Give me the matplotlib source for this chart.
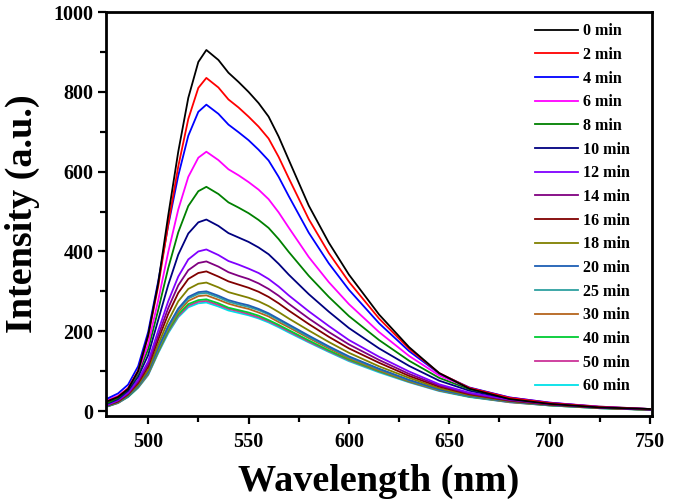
import matplotlib
matplotlib.use("Agg")
import matplotlib.pyplot as plt
from matplotlib.ticker import MultipleLocator

plt.rcParams['font.family'] = ['Liberation Serif', 'DejaVu Serif']
plt.rcParams['font.weight'] = 'bold'

# wavelength grid (nm)
wavelength = [480, 485, 490, 495, 500, 505, 510, 515, 520, 525, 529, 535, 540, 545, 550,
              555, 560, 565, 570, 580, 590, 600, 615, 630, 645, 660, 680, 700, 725, 750]

labels = ["0 min", "2 min", "4 min", "6 min", "8 min", "10 min", "12 min", "14 min",
          "16 min", "18 min", "20 min", "25 min", "30 min", "40 min", "50 min", "60 min"]

colors = ["#000000", "#FF0000", "#0000FF", "#FF00FF", "#008000", "#000080", "#8000FF",
          "#800080", "#800000", "#808000", "#1E5FB4", "#2EA0A0", "#B5651D", "#00CC33",
          "#CC3399", "#00E0E8"]

t0 = [25, 35, 55, 100, 190, 320, 490, 650, 785, 875, 905, 880, 848, 825, 800, 772, 738, 688, 630, 515, 422, 342, 242, 160, 95, 56, 30, 18, 9, 5]
t2 = [25, 36, 57, 101, 187, 312, 468, 613, 732, 810, 835, 811, 781, 761, 738, 713, 683, 637, 584, 481, 396, 324, 232, 156, 95, 58, 33, 20, 10, 5]
t4 = [32, 44, 66, 112, 198, 325, 465, 590, 690, 750, 768, 745, 718, 699, 679, 655, 628, 587, 539, 447, 370, 304, 220, 150, 94, 59, 34, 21, 10, 5]
t6 = [28, 38, 57, 98, 168, 277, 398, 505, 587, 635, 650, 629, 606, 591, 574, 555, 531, 498, 460, 386, 323, 268, 198, 138, 89, 58, 34, 21, 11, 5]
t8 = [21, 33, 55, 93, 155, 253, 358, 448, 514, 551, 562, 544, 523, 510, 496, 479, 459, 431, 399, 339, 286, 238, 178, 126, 83, 55, 33, 20, 11, 5]
t10 = [19, 30, 51, 86, 140, 228, 316, 392, 445, 473, 480, 464, 446, 435, 424, 410, 393, 369, 342, 293, 249, 208, 157, 113, 76, 51, 31, 19, 10, 4]
t12 = [16, 27, 46, 78, 124, 201, 275, 337, 380, 400, 405, 391, 376, 367, 357, 346, 331, 312, 290, 250, 213, 178, 136, 99, 67, 46, 29, 18, 9, 4]
t14 = [16, 26, 44, 74, 117, 189, 258, 315, 353, 371, 375, 362, 348, 339, 331, 320, 306, 289, 269, 232, 198, 167, 128, 93, 64, 44, 27, 17, 9, 4]
t16 = [15, 24, 42, 70, 111, 179, 243, 296, 331, 346, 350, 337, 325, 317, 309, 299, 286, 270, 252, 218, 186, 157, 121, 88, 61, 42, 26, 16, 8, 4]
t18 = [14, 23, 40, 66, 103, 167, 226, 275, 306, 319, 322, 310, 298, 291, 284, 275, 263, 248, 232, 202, 173, 146, 112, 83, 57, 40, 25, 16, 8, 3]
t20 = [13, 22, 38, 63, 98, 158, 213, 257, 286, 298, 300, 289, 278, 271, 265, 256, 245, 231, 217, 189, 162, 137, 106, 78, 54, 38, 24, 15, 8, 3]
t25 = [13, 22, 37, 62, 97, 156, 210, 254, 282, 294, 296, 285, 274, 267, 261, 253, 242, 228, 214, 186, 160, 135, 105, 77, 53, 37, 24, 15, 8, 3]
t30 = [13, 21, 37, 61, 95, 153, 206, 248, 276, 288, 290, 279, 269, 262, 256, 247, 237, 223, 210, 183, 157, 132, 102, 75, 52, 37, 23, 15, 8, 3]
t40 = [12, 21, 36, 60, 93, 149, 201, 242, 268, 278, 280, 270, 259, 253, 247, 239, 228, 216, 203, 177, 152, 129, 100, 74, 52, 36, 23, 14, 7, 3]
t50 = [12, 20, 36, 59, 91, 147, 198, 238, 264, 274, 276, 266, 256, 250, 243, 235, 225, 213, 200, 174, 150, 127, 99, 73, 51, 36, 22, 14, 7, 3]
t60 = [12, 20, 35, 58, 90, 145, 195, 235, 260, 270, 272, 262, 252, 246, 240, 232, 222, 210, 197, 172, 148, 125, 97, 72, 50, 35, 22, 14, 7, 3]

series = [t0, t2, t4, t6, t8, t10, t12, t14, t16, t18, t20, t25, t30, t40, t50, t60]

fig = plt.figure(figsize=(6.75, 5.04), dpi=100)
ax = fig.add_axes([0.157, 0.175, 0.809, 0.801])

# draw low curves first so the high ones sit on top
for vals, lab, col in reversed(list(zip(series, labels, colors))):
    ax.plot(wavelength, vals, color=col, lw=1.3, label=lab)

ax.set_xlim(479, 751)
ax.set_ylim(-12, 1000)
ax.xaxis.set_major_locator(MultipleLocator(50))
ax.xaxis.set_minor_locator(MultipleLocator(25))
ax.yaxis.set_major_locator(MultipleLocator(200))
ax.yaxis.set_minor_locator(MultipleLocator(100))

for side in ["left", "bottom", "right", "top"]:
    ax.spines[side].set_linewidth(2)
ax.tick_params(which="both", direction="out", top=False, right=False, width=1.6)
ax.tick_params(which="major", length=6, labelsize=14.5)
ax.tick_params(axis="x", which="major", pad=6)
ax.tick_params(axis="y", which="major", pad=3)
ax.tick_params(which="minor", length=4)
for lbl in ax.get_xticklabels() + ax.get_yticklabels():
    lbl.set_fontweight("bold")

ax.set_xlabel("Wavelength (nm)", fontsize=27.5, fontweight="bold", labelpad=8)
ax.set_ylabel("Intensity (a.u.)", fontsize=27.5, fontweight="bold", labelpad=10)

handles, labs = ax.get_legend_handles_labels()
ax.legend(handles[::-1], labs[::-1], loc="upper left", bbox_to_anchor=(0.785, 0.972),
          frameon=False, handlelength=2.7, handletextpad=0.3,
          labelspacing=0.48, borderpad=0, borderaxespad=0,
          prop={"weight": "bold", "size": 11.5})

fig.savefig("out.png", dpi=100)
